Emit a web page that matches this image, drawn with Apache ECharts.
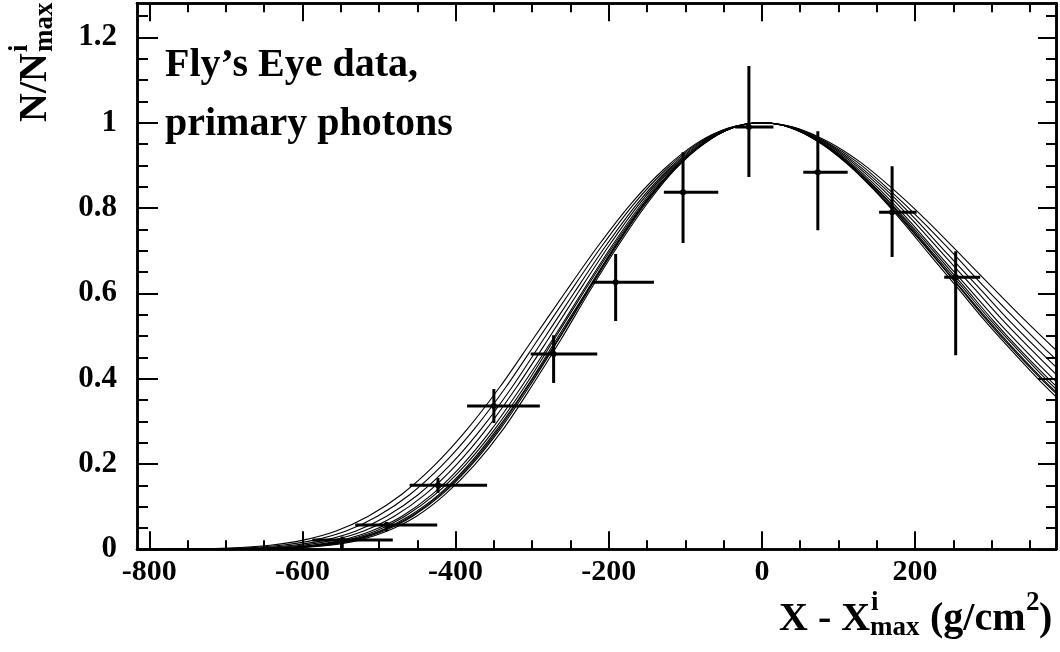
<!DOCTYPE html>
<html><head><meta charset="utf-8">
<script src="https://cdn.jsdelivr.net/npm/echarts@6/dist/echarts.min.js"></script>
<style>html,body{margin:0;padding:0;background:#fff}#c{width:1060px;height:652px}</style>
</head><body><div id="c"></div>
<script>
// ---- tick values ----
const xMajorTicks = [-800, -600, -400, -200, 0, 200];
const xMinorTicks = [-800, -750, -700, -650, -600, -550, -500, -450, -400, -350, -300, -250, -200, -150, -100, -50, 0, 50, 100, 150, 200, 250, 300, 350];
const yMajorTicks = [0, 0.2, 0.4, 0.6, 0.8, 1, 1.2];
const yMinorTicks = [0, 0.05, 0.1, 0.15, 0.2, 0.25, 0.3, 0.35, 0.4, 0.45, 0.5, 0.55, 0.6, 0.65, 0.7, 0.75, 0.8, 0.85, 0.9, 0.95, 1, 1.05, 1.1, 1.15, 1.2, 1.25];

// ---- Fly's Eye data points (x, y, x-range, y-range) ----
const pointX = [-548, -490, -423, -350, -272, -191, -103, -17, 73, 170, 253];
const pointY = [0.022, 0.057, 0.150, 0.336, 0.458, 0.626, 0.837, 0.990, 0.884, 0.790, 0.638];
const xLow  = [-587, -531, -460, -385, -302, -221, -128, -35, 54, 153, 238];
const xHigh = [-482, -424, -359, -290, -215, -141, -57, 15, 112, 202, 285];
const yLow  = [0.003, 0.043, 0.132, 0.296, 0.390, 0.535, 0.718, 0.873, 0.748, 0.685, 0.455];
const yHigh = [0.030, 0.064, 0.167, 0.376, 0.502, 0.692, 0.931, 1.133, 0.980, 0.898, 0.699];

// ---- simulated photon shower profiles: shared N/Nmax levels, per-curve depths ----
const profileY = [0, 0.0001, 0.0006, 0.0028, 0.0096, 0.0215, 0.043, 0.0775, 0.128, 0.196, 0.281, 0.381, 0.49, 0.602, 0.711, 0.81, 0.891, 0.951, 0.988, 1, 0.989, 0.956, 0.907, 0.843, 0.771, 0.693, 0.614, 0.536, 0.462, 0.393, 0.33];
const curveA = [-752, -705, -658, -611, -564, -526, -489, -451, -414, -376, -338, -301, -263, -226, -188, -150, -113, -75, -38, 0, 36, 73, 109, 146, 182, 218, 255, 291, 328, 364, 400];
const curveB = [-760, -713, -665, -618, -570, -532, -494, -456, -418, -380, -342, -304, -266, -228, -190, -152, -114, -76, -38, 0, 37, 74, 111, 148, 185, 222, 259, 296, 333, 370, 407];
const curveC = [-764, -716, -669, -621, -573, -535, -497, -458, -420, -382, -344, -306, -267, -229, -191, -153, -115, -76, -38, 0, 37, 75, 112, 150, 187, 224, 262, 299, 337, 374, 411];
const curveD = [-768, -720, -672, -624, -576, -538, -499, -461, -422, -384, -346, -307, -269, -230, -192, -154, -115, -77, -38, 0, 37, 74, 110, 147, 184, 221, 258, 294, 331, 368, 405];
const curveE = [-776, -728, -679, -631, -582, -543, -504, -466, -427, -388, -349, -310, -272, -233, -194, -155, -116, -78, -39, 0, 38, 76, 113, 151, 189, 227, 265, 302, 340, 378, 416];
const curveF = [-784, -735, -686, -637, -588, -549, -510, -470, -431, -392, -353, -314, -274, -235, -196, -157, -118, -78, -39, 0, 38, 77, 115, 154, 192, 230, 269, 307, 346, 384, 422];
const curveG = [-800, -750, -700, -650, -600, -560, -520, -480, -440, -400, -360, -320, -280, -240, -200, -160, -120, -80, -40, 0, 39, 79, 118, 158, 197, 236, 276, 315, 355, 394, 433];
const curveH = [-816, -765, -714, -663, -612, -571, -530, -490, -449, -408, -367, -326, -286, -245, -204, -163, -122, -82, -41, 0, 40, 81, 121, 162, 202, 242, 283, 323, 364, 404, 444];
const curveI = [-836, -784, -732, -679, -627, -585, -543, -502, -460, -418, -376, -334, -293, -251, -209, -167, -125, -84, -42, 0, 42, 83, 125, 166, 208, 250, 291, 333, 374, 416, 458];
const curveJ = [-856, -803, -749, -696, -642, -599, -556, -514, -471, -428, -385, -342, -300, -257, -214, -171, -128, -86, -43, 0, 43, 86, 129, 172, 215, 258, 301, 344, 387, 430, 473];
const curves = [curveA, curveB, curveC, curveD, curveE, curveF, curveG, curveH, curveI, curveJ];

const FONT = '"Liberation Serif", "Times New Roman", serif';
const X_MIN = -816, X_MAX = 384, Y_MIN = 0, Y_MAX = 1.28;

const chart = echarts.init(document.getElementById('c'), null, {renderer: 'canvas'});

function xAxisDef(pos, ticks, len, labels) {
  return {
    type: 'value', gridIndex: 0, position: pos, min: X_MIN, max: X_MAX,
    axisLine: {show: true, onZero: false, lineStyle: {color: '#000', width: 2.5}},
    axisTick: {show: true, inside: true, length: len, customValues: ticks, lineStyle: {color: '#000', width: 2}},
    axisLabel: labels ? {show: true, customValues: ticks, margin: 8, color: '#000', fontFamily: FONT, fontWeight: 'bold', fontSize: 30} : {show: false},
    splitLine: {show: false}, minorTick: {show: false}
  };
}
function yAxisDef(pos, ticks, len, labels) {
  return {
    type: 'value', gridIndex: 0, position: pos, min: Y_MIN, max: Y_MAX,
    axisLine: {show: true, onZero: false, lineStyle: {color: '#000', width: 2.5}},
    axisTick: {show: true, inside: true, length: len, customValues: ticks, lineStyle: {color: '#000', width: 2}},
    axisLabel: labels ? {show: true, customValues: ticks, margin: 20, color: '#000', fontFamily: FONT, fontWeight: 'bold', fontSize: 31,
      formatter: v => String(Math.round(v * 10) / 10)} : {show: false},
    splitLine: {show: false}, minorTick: {show: false}
  };
}

const series = curves.map(cx => ({
  type: 'line', xAxisIndex: 0, yAxisIndex: 0,
  data: cx.map((x, i) => [x, profileY[i]]),
  showSymbol: false, symbol: 'none', smooth: 0.3, clip: true,
  lineStyle: {color: '#000', width: 1.1}, z: 2, silent: true, animation: false
}));

series.push({
  type: 'custom', xAxisIndex: 0, yAxisIndex: 0, z: 5, animation: false, clip: true,
  data: pointX.map((x, i) => [x, pointY[i], xLow[i], xHigh[i], yLow[i], yHigh[i]]),
  renderItem: function (params, api) {
    const c = api.coord([api.value(0), api.value(1)]);
    const l = api.coord([api.value(2), api.value(1)]);
    const r = api.coord([api.value(3), api.value(1)]);
    const lo = api.coord([api.value(0), api.value(4)]);
    const hi = api.coord([api.value(0), api.value(5)]);
    const st = {stroke: '#000', lineWidth: 3};
    return {
      type: 'group', children: [
        {type: 'line', shape: {x1: l[0], y1: l[1], x2: r[0], y2: r[1]}, style: st},
        {type: 'line', shape: {x1: lo[0], y1: lo[1], x2: hi[0], y2: hi[1]}, style: st},
        {type: 'circle', shape: {cx: c[0], cy: c[1], r: 3}, style: {fill: '#000'}}
      ]
    };
  }
});

const bold = (size) => ({fontFamily: FONT, fontWeight: 'bold', fontSize: size, fill: '#000'});

chart.setOption({
  animation: false,
  backgroundColor: '#fff',
  grid: {left: 137, right: 4, top: 3.3, bottom: 102.7, containLabel: false, outerBoundsMode: 'none', show: false},
  xAxis: [
    xAxisDef('bottom', xMajorTicks, 18, true),
    xAxisDef('bottom', xMinorTicks, 9, false),
    xAxisDef('top', xMajorTicks, 18, false),
    xAxisDef('top', xMinorTicks, 9, false)
  ],
  yAxis: [
    yAxisDef('left', yMajorTicks, 21, true),
    yAxisDef('left', yMinorTicks, 11, false),
    yAxisDef('right', yMajorTicks, 18, false),
    yAxisDef('right', yMinorTicks, 10, false)
  ],
  series: series,
  graphic: [
    {type: 'text', x: 165, y: 79.3 - 0.34 * 40, style: Object.assign(bold(40), {text: 'Fly\u2019s Eye data,', verticalAlign: 'middle', align: 'left'})},
    {type: 'text', x: 165, y: 138.3 - 0.34 * 40, style: Object.assign(bold(40), {text: 'primary photons', verticalAlign: 'middle', align: 'left'})},
    // y-axis title, rotated
    {type: 'group', x: 36, y: 122, rotation: Math.PI / 2, children: [
      {type: 'text', x: 0, y: 0, style: Object.assign(bold(40), {text: 'N/N', verticalAlign: 'middle', align: 'left'})},
      {type: 'text', x: 70, y: -16, style: Object.assign(bold(27), {text: 'i', verticalAlign: 'middle', align: 'left'})},
      {type: 'text', x: 70, y: 9, style: Object.assign(bold(27), {text: 'max', verticalAlign: 'middle', align: 'left'})}
    ]},
    // x-axis title
    {type: 'group', x: 779, y: 633 - 0.34 * 40, children: [
      {type: 'text', x: 0, y: 0, style: Object.assign(bold(40), {text: 'X - X', verticalAlign: 'middle', align: 'left'})},
      {type: 'text', x: 92, y: -16, style: Object.assign(bold(27), {text: 'i', verticalAlign: 'middle', align: 'left'})},
      {type: 'text', x: 91, y: 9, style: Object.assign(bold(27), {text: 'max', verticalAlign: 'middle', align: 'left'})},
      {type: 'text', x: 141, y: 0, style: Object.assign(bold(40), {text: ' (g/cm', verticalAlign: 'middle', align: 'left'})},
      {type: 'text', x: 247, y: -16, style: Object.assign(bold(27), {text: '2', verticalAlign: 'middle', align: 'left'})},
      {type: 'text', x: 260, y: 0, style: Object.assign(bold(40), {text: ')', verticalAlign: 'middle', align: 'left'})}
    ]}
  ]
});
</script>
</body></html>
